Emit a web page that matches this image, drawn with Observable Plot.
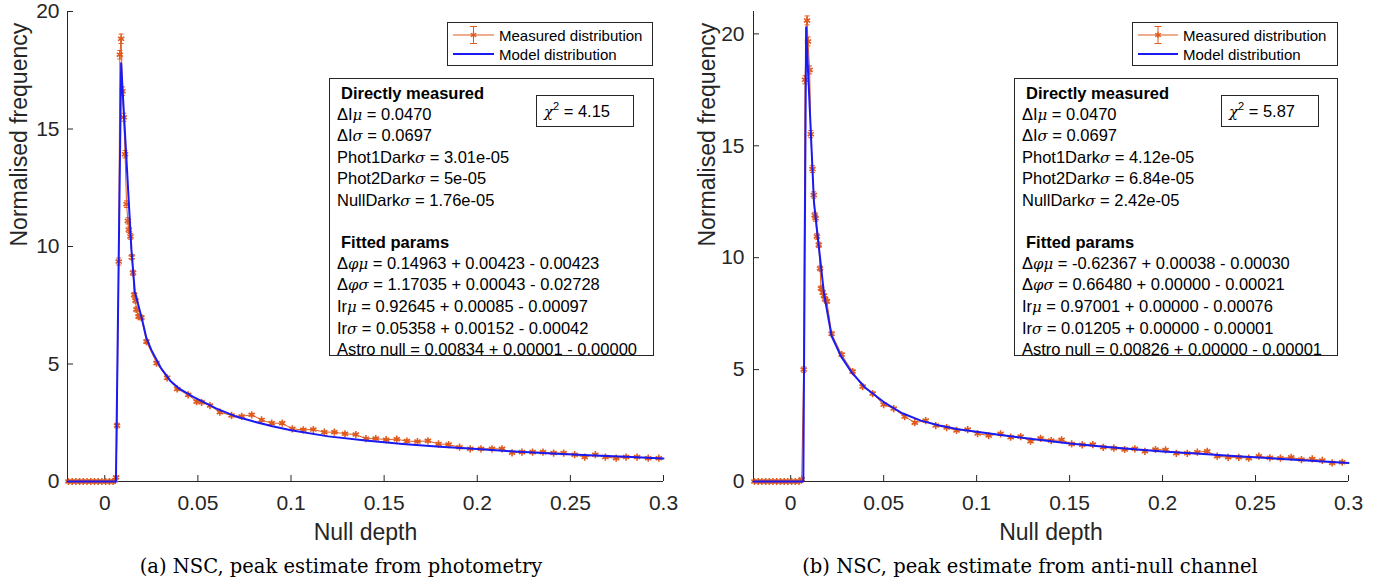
<!DOCTYPE html>
<html><head><meta charset="utf-8">
<script src="https://cdn.jsdelivr.net/npm/d3@7"></script>
<script src="https://cdn.jsdelivr.net/npm/@observablehq/plot@0.6"></script>
<style>
html,body{margin:0;padding:0;background:#fff;}
#root{position:relative;width:1390px;height:586px;overflow:hidden;font-family:"Liberation Sans",Arial,sans-serif;}
.panel{position:absolute;top:0;}
.panel svg{display:block;}
.box{position:absolute;box-sizing:border-box;border:1px solid #262626;background:#fff;color:#000;white-space:nowrap;}
.tbox{font-size:16.5px;line-height:20.6px;padding:4px 0 0 7px;}
.tbox .h{font-weight:bold;padding-left:4px;}
.g{font-family:"DejaVu Serif",serif;font-style:italic;font-size:0.9em;}
.leg{font-size:15px;}
.leg .t{position:absolute;line-height:19px;}
.chi{font-size:16.5px;line-height:30px;padding-left:7px;}
.chi sup{font-size:11px;vertical-align:7px;line-height:0;}
.cap{position:absolute;font-family:"DejaVu Serif",serif;font-size:19.5px;line-height:22px;white-space:nowrap;transform:translateX(-50%);color:#000;}
</style></head>
<body><div id="root"></div>
<script>
// ---------- shared axis values ----------
const xTicks = [0, 0.05, 0.1, 0.15, 0.2, 0.25, 0.3];
const xDomain = [-0.02, 0.3];
const yTicksA = [0, 5, 10, 15, 20];
const yTicksB = [0, 5, 10, 15, 20];
const yMaxA = 20, yMaxB = 21;
const xLabel = "Null depth";
const yLabel = "Normalised frequency";
const legendLabels = ["Measured distribution", "Model distribution"];

// ---------- panel (a): measured distribution ----------
const measAx = [-0.0195,-0.0175,-0.0155,-0.0135,-0.0115,-0.0095,-0.0075,-0.0055,-0.0035,-0.0015,0.0005,0.0025,0.0045,
  0.0055,0.0061,0.0066,0.0075,0.0081,0.0088,0.0095,0.0102,0.0109,0.0117,0.0124,0.0129,0.0138,0.0145,0.0152,0.0158,0.0165,0.0170,0.0181,0.0197,
  0.0224,0.0278,0.0335,0.0389,0.0448,0.0493,0.0520,0.0565,0.0618,
  0.0681,0.0735,0.0789,0.0842,0.0896,0.0953,0.1007,0.1066,0.1120,0.1179,0.1233,0.1290,0.1348,0.1402,0.1455,0.1511,0.1568,0.1622,0.1679,0.1735,
  0.1792,0.1846,0.1905,0.1962,0.2020,0.2079,0.2133,0.2187,0.2240,0.2297,0.2353,0.2410,0.2464,0.2523,0.2577,0.2634,0.2688,0.2746,0.2799,0.2858,0.2918,0.2975];
const measAy = [0,0,0,0,0,0,0,0,0,0,0,0,0,
  0.05,0.18,2.38,9.36,18.16,18.84,16.61,15.50,13.93,11.80,11.09,10.71,10.43,9.55,8.88,7.94,7.70,7.32,7.02,6.97,
  5.95,5.04,4.41,3.94,3.69,3.40,3.37,3.23,2.95,
  2.81,2.77,2.84,2.62,2.48,2.48,2.24,2.20,2.21,2.10,2.10,2.03,2.00,1.82,1.83,1.78,1.80,1.72,1.70,1.73,
  1.60,1.57,1.46,1.39,1.39,1.39,1.39,1.22,1.25,1.25,1.25,1.21,1.21,1.14,1.04,1.14,1.04,0.99,1.04,1.04,0.99,0.99];
const measAerr = [0.01,0.01,0.01,0.01,0.01,0.01,0.01,0.01,0.01,0.01,0.01,0.01,0.01,
  0.02,0.04,0.10,0.15,0.18,0.20,0.18,0.17,0.16,0.14,0.13,0.12,0.12,0.11,0.11,0.10,0.10,0.10,0.09,0.09,
  0.08,0.07,0.07,0.06,0.06,0.06,0.06,0.05,0.05,
  0.05,0.05,0.05,0.05,0.05,0.05,0.04,0.04,0.04,0.04,0.04,0.04,0.04,0.04,0.04,0.04,0.04,0.04,0.04,0.04,
  0.04,0.04,0.03,0.03,0.03,0.03,0.03,0.03,0.03,0.03,0.03,0.03,0.03,0.03,0.03,0.03,0.03,0.03,0.03,0.03,0.03,0.03];
// panel (a): model distribution
const modelAx = [-0.02,0.006,0.0088,0.0143,0.0161,0.020,0.0224,0.025,0.030,0.035,0.040,0.0475,0.055,0.060,0.070,0.080,0.090,0.100,0.120,0.140,0.160,0.180,0.200,0.220,0.240,0.260,0.280,0.300];
const modelAy = [0,0,17.8,9.9,8.1,6.9,6.1,5.6,4.85,4.3,3.95,3.6,3.3,3.1,2.78,2.55,2.35,2.18,1.92,1.74,1.6,1.48,1.38,1.28,1.19,1.12,1.05,0.98];

// ---------- panel (b): measured distribution ----------
const measBx = [-0.0195,-0.0175,-0.0155,-0.0135,-0.0115,-0.0095,-0.0075,-0.0055,-0.0035,-0.0015,0.0005,0.0025,0.0045,
  0.0059,0.0070,0.0077,0.0088,0.0093,0.0102,0.0108,0.0117,0.0124,0.0129,0.0134,0.0141,0.0151,0.0158,0.0163,0.0172,0.0179,0.0185,0.0195,
  0.0220,0.0274,0.0333,0.0387,0.0441,0.0500,0.0554,0.0613,0.0667,0.0726,0.0780,0.0839,0.0892,0.0952,0.1005,0.1065,
  0.1129,0.1183,0.1237,0.1290,0.1344,0.1401,0.1457,0.1511,0.1568,0.1625,0.1681,0.1738,0.1796,0.1851,0.1905,0.1962,0.2016,
  0.2074,0.2133,0.2187,0.2240,0.2294,0.2353,0.2410,0.2464,0.2518,0.2577,0.2634,0.2692,0.2747,0.2805,0.2859,0.2912,0.2966];
const measBy = [0,0,0,0,0,0,0,0,0,0,0,0,0,
  0.1,5.0,17.95,20.6,19.66,18.39,15.52,13.96,12.8,11.9,11.76,10.95,10.57,9.52,8.63,8.45,8.30,8.15,8.05,
  6.6,5.67,4.91,4.24,3.93,3.44,3.26,2.90,2.63,2.72,2.50,2.41,2.28,2.32,2.14,2.05,
  2.13,1.98,2.01,1.80,1.93,1.83,1.86,1.68,1.64,1.65,1.53,1.49,1.43,1.46,1.35,1.43,1.41,
  1.26,1.26,1.31,1.35,1.13,1.08,1.08,1.04,1.13,1.06,1.04,1.08,0.98,1.01,0.94,0.83,0.86];
const measBerr = [0.01,0.01,0.01,0.01,0.01,0.01,0.01,0.01,0.01,0.01,0.01,0.01,0.01,
  0.03,0.12,0.18,0.20,0.20,0.18,0.16,0.15,0.14,0.13,0.13,0.12,0.12,0.11,0.10,0.10,0.10,0.10,0.09,
  0.08,0.07,0.07,0.06,0.06,0.05,0.05,0.05,0.05,0.05,0.04,0.04,0.04,0.04,0.04,0.04,
  0.04,0.04,0.04,0.04,0.04,0.04,0.04,0.04,0.04,0.04,0.04,0.04,0.03,0.03,0.03,0.03,0.03,
  0.03,0.03,0.03,0.03,0.03,0.03,0.03,0.03,0.03,0.03,0.03,0.03,0.03,0.03,0.03,0.03,0.03];
// panel (b): model distribution
const modelBx = [-0.02,0.0068,0.0083,0.0125,0.0179,0.022,0.027,0.033,0.040,0.050,0.060,0.070,0.080,0.090,0.100,0.113,0.130,0.150,0.170,0.200,0.220,0.240,0.260,0.280,0.300];
const modelBy = [0,0,20.3,12.5,8.4,6.5,5.6,4.85,4.2,3.55,3.05,2.72,2.5,2.33,2.22,2.08,1.9,1.7,1.54,1.34,1.24,1.13,1.03,0.93,0.83];

// ---------- annotation texts ----------
const directA = ["ΔIμ = 0.0470","ΔIσ = 0.0697","Phot1Darkσ = 3.01e-05","Phot2Darkσ = 5e-05","NullDarkσ = 1.76e-05"];
const fittedA = ["Δφμ = 0.14963 + 0.00423 - 0.00423","Δφσ = 1.17035 + 0.00043 - 0.02728","Irμ = 0.92645 + 0.00085 - 0.00097","Irσ = 0.05358 + 0.00152 - 0.00042","Astro null = 0.00834 + 0.00001 - 0.00000"];
const directB = ["ΔIμ = 0.0470","ΔIσ = 0.0697","Phot1Darkσ = 4.12e-05","Phot2Darkσ = 6.84e-05","NullDarkσ = 2.42e-05"];
const fittedB = ["Δφμ = -0.62367 + 0.00038 - 0.00030","Δφσ = 0.66480 + 0.00000 - 0.00021","Irμ = 0.97001 + 0.00000 - 0.00076","Irσ = 0.01205 + 0.00000 - 0.00001","Astro null = 0.00826 + 0.00000 - 0.00001"];
const headers = ["Directly measured","Fitted params"];
const chi2A = "4.15", chi2B = "5.87";
const captionA = "(a) NSC, peak estimate from photometry";
const captionB = "(b) NSC, peak estimate from anti-null channel";

// ---------- drawing ----------
const orange = "#e05a1e", blue = "#1a1af2", axisColor = "#262626";
const root = document.getElementById("root");
const greek = s => s.replace(/[μσφχ]/g, m => `<span class="g">${m}</span>`);

function addDiv(cls, css, html) {
  const d = document.createElement("div");
  d.className = cls;
  Object.assign(d.style, css);
  d.innerHTML = html;
  root.appendChild(d);
  return d;
}

function panel(p) {
  const meas = p.mx.map((x, i) => ({x, y: p.my[i], e: p.me[i]}));
  const model = p.fx.map((x, i) => ({x, y: p.fy[i]}));
  const capSym = {draw(ctx) { ctx.moveTo(-2.5, 0); ctx.lineTo(2.5, 0); }};
  const chart = Plot.plot({
    width: p.width, height: 545,
    marginTop: 11, marginBottom: 64, marginLeft: p.ml, marginRight: p.mr,
    x: {domain: xDomain},
    y: {domain: [0, p.ymax]},
    style: {fontFamily: '"Liberation Sans", Arial, sans-serif', background: "#fff", color: axisColor},
    marks: [
      Plot.ruleX([xDomain[0]], {stroke: axisColor}),
      Plot.ruleY([0], {stroke: axisColor}),
      Plot.axisX(xTicks, {tickSize: -6, tickPadding: 20, fontSize: 21, tickFormat: d => String(d), label: null}),
      Plot.axisY(p.yTicks, {tickSize: -6, tickPadding: p.ytp, fontSize: 21, tickFormat: d => String(d), label: null}),
      Plot.ruleX(meas, {x: "x", y1: d => d.y - d.e, y2: d => d.y + d.e, stroke: orange, strokeWidth: 1}),
      Plot.dot(meas, {x: "x", y: d => d.y + d.e, symbol: capSym, r: 3, fill: "none", stroke: orange, strokeWidth: 1}),
      Plot.dot(meas, {x: "x", y: d => d.y - d.e, symbol: capSym, r: 3, fill: "none", stroke: orange, strokeWidth: 1}),
      Plot.line(meas, {x: "x", y: "y", stroke: orange, strokeWidth: 1}),
      Plot.dot(meas, {x: "x", y: "y", symbol: "asterisk", r: 3.4, stroke: orange, strokeWidth: 1.6}),
      Plot.line(model, {x: "x", y: "y", stroke: blue, strokeWidth: 2}),
      Plot.text([yLabel], {text: d => d, frameAnchor: "left", dx: p.ylabDx, rotate: -90, fontSize: 23, fill: axisColor}),
      Plot.text([xLabel], {text: d => d, frameAnchor: "bottom", dy: 58, fontSize: 23, fill: axisColor})
    ]
  });
  const holder = addDiv("panel", {left: p.left + "px"}, "");
  holder.appendChild(chart);

  // legend
  const L = p.legend;
  const mid = (L.s0 + L.s1) / 2;
  const ast = d3.symbol(d3.symbolAsterisk, 28)();
  addDiv("box leg", {left: L.x + "px", top: L.y + "px", width: L.w + "px", height: L.h + "px"},
    `<svg width="${L.w}" height="${L.h}" style="position:absolute;left:0;top:0">
      <line x1="${L.s0}" x2="${L.s1}" y1="12" y2="12" stroke="${orange}" stroke-width="1"/>
      <line x1="${mid}" x2="${mid}" y1="3.5" y2="20.5" stroke="${orange}" stroke-width="1"/>
      <line x1="${mid-3.5}" x2="${mid+3.5}" y1="3.5" y2="3.5" stroke="${orange}" stroke-width="1"/>
      <line x1="${mid-3.5}" x2="${mid+3.5}" y1="20.5" y2="20.5" stroke="${orange}" stroke-width="1"/>
      <path d="${ast}" transform="translate(${mid},12)" fill="none" stroke="${orange}" stroke-width="1.3"/>
      <line x1="${L.s0}" x2="${L.s1}" y1="31" y2="31" stroke="${blue}" stroke-width="2"/>
    </svg>
    <div class="t" style="left:${L.tx}px;top:2.5px">${legendLabels[0]}</div>
    <div class="t" style="left:${L.tx}px;top:21.5px">${legendLabels[1]}</div>`);

  // parameter box
  const T = p.tbox;
  const lines = [`<div class="h">${headers[0]}</div>`]
    .concat(p.direct.map(s => `<div>${greek(s)}</div>`))
    .concat([`<div>&nbsp;</div>`, `<div class="h">${headers[1]}</div>`])
    .concat(p.fitted.map(s => `<div>${greek(s)}</div>`));
  addDiv("box tbox", {left: T.x + "px", top: T.y + "px", width: T.w + "px", height: T.h + "px"}, lines.join(""));

  // chi-square box
  const C = p.chi;
  addDiv("box chi", {left: C.x + "px", top: C.y + "px", width: C.w + "px", height: C.h + "px"},
    `${greek("χ")}<sup>2</sup> = ${p.chi2}`);

  // caption
  addDiv("cap", {left: p.capX + "px", top: "556px"}, p.caption);
}

panel({
  left: 0, width: 690, ml: 67, mr: 27, ymax: yMaxA, yTicks: yTicksA, ytp: 14, ylabDx: -48,
  mx: measAx, my: measAy, me: measAerr, fx: modelAx, fy: modelAy,
  legend: {x: 447, y: 22, w: 206, h: 44, s0: 5, s1: 46, tx: 51},
  tbox: {x: 329, y: 78, w: 325, h: 278},
  chi: {x: 536, y: 95, w: 98, h: 32},
  direct: directA, fitted: fittedA, chi2: chi2A, caption: captionA, capX: 341
});
panel({
  left: 690, width: 700, ml: 63, mr: 42, ymax: yMaxB, yTicks: yTicksB, ytp: 15, ylabDx: -46,
  mx: measBx, my: measBy, me: measBerr, fx: modelBx, fy: modelBy,
  legend: {x: 1132, y: 22, w: 206, h: 44, s0: 5, s1: 45, tx: 50},
  tbox: {x: 1014, y: 78, w: 324, h: 278},
  chi: {x: 1221, y: 95, w: 98, h: 32},
  direct: directB, fitted: fittedB, chi2: chi2B, caption: captionB, capX: 1030
});
</script>
</body></html>
